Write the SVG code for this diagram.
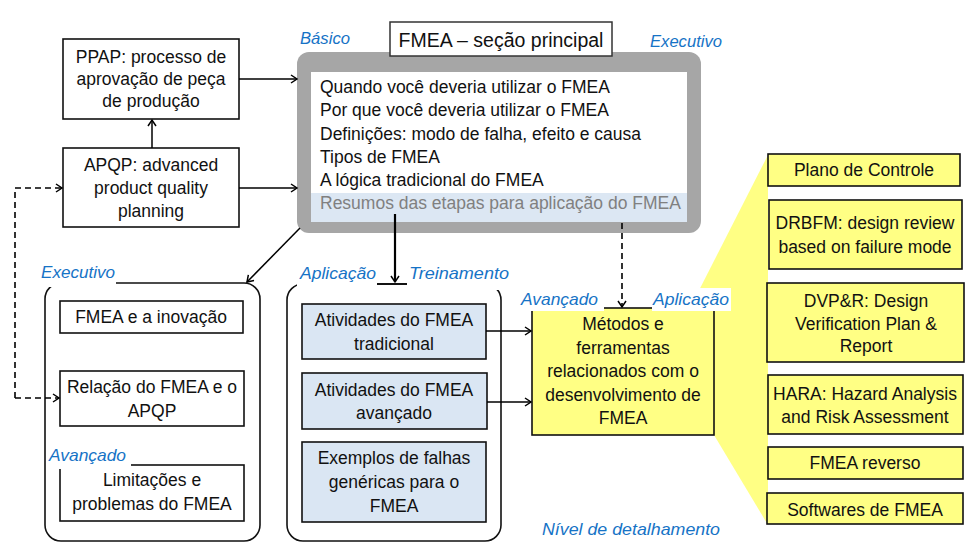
<svg xmlns="http://www.w3.org/2000/svg" width="980" height="558" viewBox="0 0 980 558">
<defs>
<marker id="ah" markerWidth="10" markerHeight="10" refX="8" refY="5" orient="auto" markerUnits="userSpaceOnUse">
<path d="M2,1 L8,5 L2,9" fill="none" stroke="#000" stroke-width="1.5"/>
</marker>
<style>
.t{font-family:"Liberation Sans",Arial,sans-serif;font-size:17.5px;fill:#111;}
.c{text-anchor:middle;}
.lb{font-family:"Liberation Sans",Arial,sans-serif;font-size:17px;font-style:italic;fill:#1673c6;}
.bx{fill:#fff;stroke:#111;stroke-width:1.6;}
.bl{fill:#dae6f3;stroke:#111;stroke-width:1.6;}
.yl{fill:#ffff84;stroke:#111;stroke-width:1.6;}
.ln{fill:none;stroke:#000;stroke-width:1.5;}
.ds{fill:none;stroke:#000;stroke-width:1.6;stroke-dasharray:6,4;}
</style>
</defs>
<rect width="980" height="558" fill="#fff"/>

<!-- yellow fan -->
<polygon points="768,155 768,525 714,435 690,308" fill="#ffff84"/>

<!-- main section -->
<g id="main">
<rect x="297" y="52" width="404" height="181" rx="12" fill="#a6a6a6"/>
<rect x="311" y="72" width="376" height="150" fill="#fff"/>
<rect x="311" y="193" width="376" height="29" fill="#dce7f3"/>
<text class="t" x="320" y="93">Quando você deveria utilizar o FMEA</text>
<text class="t" x="320" y="116">Por que você deveria utilizar o FMEA</text>
<text class="t" x="320" y="140">Definições: modo de falha, efeito e causa</text>
<text class="t" x="320" y="163">Tipos de FMEA</text>
<text class="t" x="320" y="186">A lógica tradicional do FMEA</text>
<text class="t" x="320" y="209" style="fill:#808080">Resumos das etapas para aplicação do FMEA</text>
<rect x="390" y="22" width="222" height="34" fill="#fff" stroke="#333" stroke-width="1.5"/>
<text class="t c" x="501" y="47" style="font-size:19.5px">FMEA – seção principal</text>
<text class="lb" x="300" y="44" textLength="50" lengthAdjust="spacingAndGlyphs">Básico</text>
<text class="lb" x="650" y="47" textLength="72" lengthAdjust="spacingAndGlyphs">Executivo</text>
</g>

<g id="ppap">
<rect class="bx" x="63" y="39" width="176" height="80"/>
<text class="t c" x="151" y="63">PPAP: processo de</text>
<text class="t c" x="151" y="85">aprovação de peça</text>
<text class="t c" x="151" y="107">de produção</text>
</g>

<g id="apqp">
<rect class="bx" x="63" y="148" width="176" height="79"/>
<text class="t c" x="151" y="171">APQP: advanced</text>
<text class="t c" x="151" y="194">product quality</text>
<text class="t c" x="151" y="217">planning</text>
</g>

<!-- left group -->
<g id="executivo">
<rect x="45" y="283" width="215" height="258" rx="16" fill="none" stroke="#111" stroke-width="1.6"/>
<rect x="39" y="263" width="77" height="24" fill="#fff"/>
<text class="lb" x="41" y="278" textLength="74" lengthAdjust="spacingAndGlyphs">Executivo</text>
</g>
<g id="inovacao">
<rect class="bx" x="60" y="301" width="183" height="32"/>
<text class="t c" x="151" y="323">FMEA e a inovação</text>
</g>
<g id="relacao">
<rect class="bx" x="60" y="371" width="184" height="55"/>
<text class="t c" x="152" y="393">Relação do FMEA e o</text>
<text class="t c" x="152" y="417">APQP</text>
</g>
<g id="limitacoes">
<rect class="bx" x="60" y="465" width="184" height="56"/>
<rect x="47" y="445" width="84" height="24" fill="#fff"/>
<text class="lb" x="49" y="461" textLength="77" lengthAdjust="spacingAndGlyphs">Avançado</text>
<text class="t c" x="152" y="486">Limitações e</text>
<text class="t c" x="152" y="510">problemas do FMEA</text>
</g>

<!-- middle group -->
<g id="aplicacao">
<rect x="287" y="284" width="214" height="257" rx="16" fill="none" stroke="#111" stroke-width="1.6"/>
<rect x="297" y="262" width="80" height="28" fill="#fff"/>
<rect x="407" y="262" width="106" height="28" fill="#fff"/>
<text class="lb" x="300" y="279" textLength="76" lengthAdjust="spacingAndGlyphs">Aplicação</text>
<text class="lb" x="409" y="279" textLength="100" lengthAdjust="spacingAndGlyphs">Treinamento</text>
</g>
<g id="tradicional">
<rect class="bl" x="302" y="304" width="184" height="55"/>
<text class="t c" x="394" y="326">Atividades do FMEA</text>
<text class="t c" x="394" y="350">tradicional</text>
</g>
<g id="avancado">
<rect class="bl" x="302" y="373" width="185" height="56"/>
<text class="t c" x="394" y="396">Atividades do FMEA</text>
<text class="t c" x="394" y="419">avançado</text>
</g>
<g id="exemplos">
<rect class="bl" x="302" y="442" width="184" height="80"/>
<text class="t c" x="394" y="464">Exemplos de falhas</text>
<text class="t c" x="394" y="488">genéricas para o</text>
<text class="t c" x="394" y="512">FMEA</text>
</g>

<!-- methods -->
<g id="metodos">
<rect class="yl" x="532" y="308" width="182" height="127"/>
<rect x="518" y="288" width="86" height="23" fill="#fff"/>
<rect x="652" y="288" width="79" height="23" fill="#fff"/>
<text class="lb" x="521" y="305" textLength="77" lengthAdjust="spacingAndGlyphs">Avançado</text>
<text class="lb" x="653" y="305" textLength="76" lengthAdjust="spacingAndGlyphs">Aplicação</text>
<text class="t c" x="623" y="330">Métodos e</text>
<text class="t c" x="623" y="354">ferramentas</text>
<text class="t c" x="623" y="377">relacionados com o</text>
<text class="t c" x="623" y="401">desenvolvimento de</text>
<text class="t c" x="623" y="424">FMEA</text>
</g>
<text class="lb" x="542" y="535" textLength="178" lengthAdjust="spacingAndGlyphs">Nível de detalhamento</text>

<!-- right column -->
<g id="plano">
<rect class="yl" x="768" y="154" width="192" height="32"/>
<text class="t c" x="864" y="176">Plano de Controle</text>
</g>
<g id="drbfm">
<rect class="yl" x="769" y="200" width="193" height="69"/>
<text class="t c" x="865" y="229">DRBFM: design review</text>
<text class="t c" x="865" y="253">based on failure mode</text>
</g>
<g id="dvpr">
<rect class="yl" x="767" y="283" width="197" height="79"/>
<text class="t c" x="866" y="307">DVP&amp;R: Design</text>
<text class="t c" x="866" y="330">Verification Plan &amp;</text>
<text class="t c" x="866" y="352">Report</text>
</g>
<g id="hara">
<rect class="yl" x="768" y="375" width="195" height="59"/>
<text class="t c" x="865" y="400">HARA: Hazard Analysis</text>
<text class="t c" x="865" y="423">and Risk Assessment</text>
</g>
<g id="reverso">
<rect class="yl" x="768" y="447" width="195" height="32"/>
<text class="t c" x="865" y="469">FMEA reverso</text>
</g>
<g id="softwares">
<rect class="yl" x="767" y="493" width="196" height="31"/>
<text class="t c" x="865" y="516">Softwares de FMEA</text>
</g>

<!-- connectors -->
<g id="connectors">
<line class="ln" x1="152" y1="148" x2="152" y2="120" marker-end="url(#ah)"/>
<line class="ln" x1="239" y1="79" x2="297" y2="79" marker-end="url(#ah)"/>
<line class="ln" x1="239" y1="188" x2="297" y2="188" marker-end="url(#ah)"/>
<polyline class="ds" points="15,398 15,188 62,188" marker-end="url(#ah)"/>
<line class="ds" x1="15" y1="398" x2="59" y2="398" marker-end="url(#ah)"/>
<line class="ln" x1="300" y1="228" x2="247" y2="282" marker-end="url(#ah)"/>
<line x1="395" y1="214" x2="395" y2="282" stroke="#000" stroke-width="2.2" marker-end="url(#ah)"/>
<line class="ln" x1="377" y1="284" x2="407" y2="284"/>
<line class="ds" x1="622" y1="223" x2="622" y2="307" marker-end="url(#ah)"/>
<line class="ln" x1="486" y1="331" x2="531" y2="331" marker-end="url(#ah)"/>
<line class="ln" x1="487" y1="402" x2="531" y2="402" marker-end="url(#ah)"/>
</g>
</svg>
